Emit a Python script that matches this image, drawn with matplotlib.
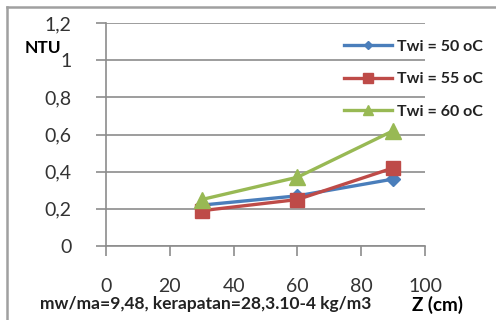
import matplotlib
matplotlib.use("Agg")
import matplotlib.pyplot as plt
from matplotlib.lines import Line2D

plt.rcParams['font.family'] = ['Lato', 'DejaVu Sans']

z_cm = [30, 60, 90]
ntu_50 = [0.22, 0.27, 0.36]
ntu_55 = [0.19, 0.25, 0.42]
ntu_60 = [0.25, 0.37, 0.62]
labels = ["Twi = 50 oC", "Twi = 55 oC", "Twi = 60 oC"]
y_ticks = [0, 0.2, 0.4, 0.6, 0.8, 1.0, 1.2]
y_ticklabels = ["0", "0,2", "0,4", "0,6", "0,8", "1", "1,2"]
x_ticks = [0, 20, 40, 60, 80, 100]

fig = plt.figure(figsize=(4.96, 3.2), dpi=100)
ax = fig.add_axes([106 / 496, 1 - 246 / 320, (425 - 106) / 496, (246 - 23) / 320])

grid_c = "#8c8c8c"
ax.plot(z_cm, ntu_50, color="#4A7EBB", lw=2.4, marker="D", ms=7, label=labels[0])
ax.plot(z_cm, ntu_55, color="#BE4B48", lw=2.4, marker="s", ms=10, label=labels[1])
ax.plot(z_cm, ntu_60, color="#98B954", lw=2.4, marker="^", ms=11, label=labels[2])

ax.set_xlim(0, 100)
ax.set_ylim(0, 1.2)
ax.set_yticks(y_ticks)
ax.set_yticklabels(y_ticklabels)
ax.set_xticks(x_ticks)
ax.yaxis.grid(True, color=grid_c, lw=1.2)
ax.set_axisbelow(True)
for s in ["top", "right"]:
    ax.spines[s].set_visible(False)
ax.spines["left"].set_color(grid_c)
ax.spines["bottom"].set_color(grid_c)
ax.spines["left"].set_linewidth(1.2)
ax.spines["bottom"].set_linewidth(1.2)
ax.tick_params(axis="y", length=7, width=1.2, color=grid_c, labelsize=14, labelcolor="#333333", pad=18)
ax.tick_params(axis="x", length=7, width=1.2, color=grid_c, labelsize=14, labelcolor="#333333", pad=16)

leg = ax.legend(loc="upper left", bbox_to_anchor=(338 / 496, 1 - 33 / 320), bbox_transform=fig.transFigure,
                frameon=False, fontsize=11.5, handlelength=3.0, handletextpad=0.3, labelspacing=1.15,
                borderaxespad=0, markerscale=0.65)
for t in leg.get_texts():
    t.set_fontweight("bold")
    t.set_color("#222222")

fig.text(25 / 496, 1 - 48 / 320, "NTU", fontsize=12.5, fontweight="bold", va="center", ha="left")
fig.text(412 / 496, 1 - 305 / 320, "Z (cm)", fontsize=13.5, fontweight="bold", va="center", ha="left")
fig.text(40 / 496, 1 - 304 / 320, "mw/ma=9,48, kerapatan=28,3.10-4 kg/m3", fontsize=12.5,
         fontweight="bold", color="#222222", va="center", ha="left")

fig.add_artist(Line2D([7 / 496, 7 / 496], [0, 1 - 7 / 320], transform=fig.transFigure, color="#a0a0a0", lw=1.8))
fig.add_artist(Line2D([7 / 496, 1], [1 - 7 / 320, 1 - 7 / 320], transform=fig.transFigure, color="#a0a0a0", lw=1.8))

fig.savefig("out.png", dpi=100)
